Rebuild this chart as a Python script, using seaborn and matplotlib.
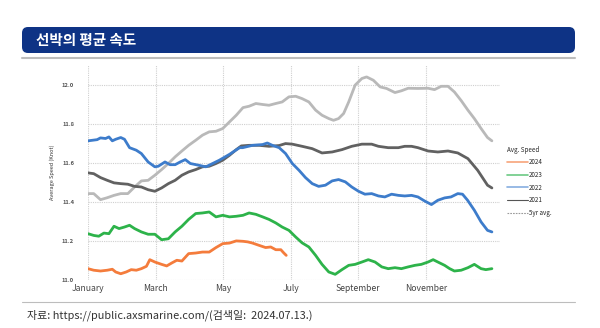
import matplotlib
matplotlib.use("Agg")
import matplotlib.pyplot as plt
from matplotlib.patches import FancyBboxPatch
from matplotlib.lines import Line2D
import pandas as pd
import seaborn as sns

sns.set_style("white")
plt.rcParams["font.family"] = ["Noto Sans CJK KR", "DejaVu Sans"]

# x values are months elapsed since 1 January
month_ticks = [0, 2, 4, 6, 8, 10]
month_labels = ["January", "March", "May", "July", "September", "November"]
speed_ticks = [11.0, 11.2, 11.4, 11.6, 11.8, 12.0]

x_2024 = [0, 0.17, 0.37, 0.57, 0.72, 0.82, 0.97, 1.13, 1.28, 1.43, 1.58, 1.73, 1.83, 1.98,
          2.18, 2.33, 2.48, 2.63, 2.78, 2.98, 3.19, 3.39, 3.59, 3.79, 3.99, 4.19, 4.39,
          4.59, 4.73, 4.87, 5.07, 5.26, 5.41, 5.56, 5.71, 5.80, 5.87]
v_2024 = [11.058, 11.050, 11.046, 11.050, 11.055, 11.041, 11.032, 11.041, 11.053, 11.050,
          11.058, 11.070, 11.104, 11.092, 11.080, 11.072, 11.087, 11.101, 11.097, 11.135,
          11.138, 11.143, 11.143, 11.166, 11.186, 11.189, 11.200, 11.198, 11.195, 11.189,
          11.177, 11.166, 11.169, 11.155, 11.155, 11.138, 11.126]

x_2023 = [0, 0.17, 0.32, 0.47, 0.62, 0.77, 0.92, 1.08, 1.23, 1.38, 1.58, 1.78, 1.98, 2.18,
          2.38, 2.58, 2.78, 2.98, 3.19, 3.39, 3.59, 3.79, 3.99, 4.19, 4.39, 4.59, 4.77,
          4.97, 5.17, 5.36, 5.56, 5.75, 5.95, 6.15, 6.34, 6.54, 6.74, 6.93, 7.13, 7.32,
          7.52, 7.72, 7.91, 8.11, 8.30, 8.50, 8.70, 8.89, 9.09, 9.28, 9.48, 9.68, 9.87,
          10.07, 10.22, 10.36, 10.56, 10.71, 10.85, 11.05, 11.25, 11.44, 11.64, 11.78, 11.96]
v_2023 = [11.237, 11.228, 11.224, 11.240, 11.237, 11.275, 11.263, 11.271, 11.280, 11.263,
          11.246, 11.234, 11.234, 11.206, 11.211, 11.246, 11.275, 11.310, 11.340, 11.343,
          11.348, 11.323, 11.331, 11.323, 11.326, 11.331, 11.343, 11.336, 11.323, 11.310,
          11.292, 11.271, 11.254, 11.220, 11.190, 11.169, 11.126, 11.080, 11.041, 11.029,
          11.053, 11.075, 11.080, 11.092, 11.104, 11.092, 11.067, 11.058, 11.063, 11.058,
          11.067, 11.075, 11.080, 11.092, 11.104, 11.092, 11.075, 11.058, 11.046, 11.050,
          11.063, 11.080, 11.058, 11.053, 11.058]

x_2022 = [0, 0.27, 0.37, 0.52, 0.62, 0.72, 0.82, 0.97, 1.08, 1.23, 1.43, 1.58, 1.78, 1.98,
          2.08, 2.28, 2.43, 2.58, 2.73, 2.88, 3.03, 3.28, 3.49, 3.69, 3.89, 4.19, 4.49,
          4.58, 4.87, 5.17, 5.31, 5.46, 5.66, 5.85, 6.05, 6.25, 6.44, 6.64, 6.83, 7.03,
          7.23, 7.42, 7.62, 7.81, 8.01, 8.20, 8.40, 8.60, 8.79, 8.99, 9.19, 9.38, 9.58,
          9.77, 9.97, 10.17, 10.36, 10.56, 10.75, 10.95, 11.09, 11.24, 11.44, 11.64, 11.83, 11.96]
v_2022 = [11.712, 11.718, 11.727, 11.724, 11.732, 11.712, 11.720, 11.729, 11.720, 11.677,
          11.664, 11.647, 11.604, 11.579, 11.582, 11.604, 11.590, 11.590, 11.604, 11.616,
          11.596, 11.587, 11.579, 11.596, 11.613, 11.643, 11.677, 11.677, 11.689, 11.693,
          11.701, 11.689, 11.677, 11.647, 11.596, 11.561, 11.524, 11.493, 11.479, 11.485,
          11.507, 11.514, 11.502, 11.476, 11.454, 11.439, 11.442, 11.430, 11.425, 11.439,
          11.433, 11.430, 11.433, 11.425, 11.404, 11.386, 11.408, 11.420, 11.425, 11.442,
          11.439, 11.408, 11.357, 11.297, 11.254, 11.246]

x_2021 = [0, 0.17, 0.37, 0.57, 0.77, 0.97, 1.18, 1.38, 1.58, 1.78, 1.98, 2.18, 2.38, 2.58,
          2.78, 2.98, 3.19, 3.39, 3.59, 3.79, 3.99, 4.19, 4.39, 4.54, 4.77, 5.07, 5.36,
          5.66, 5.85, 6.05, 6.34, 6.64, 6.93, 7.23, 7.52, 7.81, 8.11, 8.40, 8.60, 8.89,
          9.19, 9.38, 9.58, 9.77, 10.07, 10.36, 10.66, 10.95, 11.25, 11.54, 11.83, 11.96]
v_2021 = [11.548, 11.544, 11.524, 11.510, 11.497, 11.493, 11.490, 11.479, 11.476, 11.462,
          11.454, 11.471, 11.493, 11.510, 11.536, 11.553, 11.565, 11.579, 11.582, 11.596,
          11.613, 11.638, 11.667, 11.686, 11.689, 11.689, 11.684, 11.688, 11.698, 11.695,
          11.684, 11.672, 11.650, 11.655, 11.667, 11.684, 11.695, 11.695, 11.684, 11.677,
          11.677, 11.684, 11.684, 11.677, 11.660, 11.655, 11.660, 11.650, 11.621, 11.561,
          11.485, 11.471]

x_5yr = [0, 0.17, 0.37, 0.57, 0.77, 0.97, 1.18, 1.38, 1.58, 1.78, 1.98, 2.18, 2.38, 2.58,
         2.78, 2.98, 3.19, 3.39, 3.59, 3.79, 3.99, 4.19, 4.39, 4.59, 4.77, 4.97, 5.17,
         5.36, 5.56, 5.75, 5.95, 6.15, 6.34, 6.54, 6.74, 6.93, 7.13, 7.27, 7.42, 7.57,
         7.72, 7.91, 8.11, 8.25, 8.45, 8.65, 8.84, 9.09, 9.28, 9.48, 9.77, 10.07, 10.26,
         10.46, 10.66, 10.85, 11.05, 11.25, 11.44, 11.64, 11.83, 11.96]
v_5yr = [11.442, 11.442, 11.411, 11.421, 11.433, 11.442, 11.442, 11.476, 11.507, 11.510,
         11.536, 11.565, 11.596, 11.630, 11.660, 11.689, 11.715, 11.741, 11.758, 11.761,
         11.775, 11.809, 11.843, 11.882, 11.889, 11.903, 11.898, 11.894, 11.903, 11.911,
         11.937, 11.940, 11.928, 11.911, 11.869, 11.843, 11.826, 11.817, 11.826, 11.852,
         11.911, 11.997, 12.031, 12.039, 12.022, 11.988, 11.980, 11.959, 11.968, 11.981,
         11.980, 11.981, 11.974, 11.991, 11.991, 11.962, 11.918, 11.869, 11.826, 11.775,
         11.729, 11.712]

series = [
    ("5yr avg.", x_5yr, v_5yr, "#B9B9B9"),
    ("2021", x_2021, v_2021, "#616161"),
    ("2022", x_2022, v_2022, "#3D7CCB"),
    ("2023", x_2023, v_2023, "#2DB34A"),
    ("2024", x_2024, v_2024, "#F47C3C"),
]

frames = [pd.DataFrame({"month": xs, "speed": vs, "year": name})
          for name, xs, vs, _ in series]
df = pd.concat(frames, ignore_index=True)
palette = {name: color for name, _, _, color in series}

fig = plt.figure(figsize=(6, 3.28), dpi=100)

# page furniture: title banner, rules and source line (pixel coordinates)
deco = fig.add_axes([0, 0, 1, 1])
deco.set_xlim(0, 600)
deco.set_ylim(328, 0)
deco.axis("off")
deco.add_patch(FancyBboxPatch((22, 27), 553, 26,
                              boxstyle="round,pad=0,rounding_size=6",
                              facecolor="#0E3385", edgecolor="none"))
deco.text(36, 40.5, "선박의 평균 속도", color="white", fontsize=10.5,
          fontweight="bold", va="center", ha="left")
deco.plot([22, 575], [58, 58], color="#BDBDBD", lw=1.5)
deco.plot([22, 575], [302, 302], color="#BDBDBD", lw=0.8)
deco.text(27, 315, "자료: https://public.axsmarine.com/(검색일:  2024.07.13.)",
          color="#333333", fontsize=7.9, va="center", ha="left")

ax = fig.add_axes([88 / 600, 1 - 280 / 328, 412 / 600, 215 / 328])
sns.lineplot(data=df, x="month", y="speed", hue="year", palette=palette,
             hue_order=[s[0] for s in series], sort=False, estimator=None,
             linewidth=2.0, legend=False, ax=ax)

ax.set_xlim(0, 12.2)
ax.set_ylim(11.0, 12.1)
ax.set_xticks(month_ticks)
ax.set_xticklabels(month_labels, fontsize=6.2, color="#444444")
ax.set_yticks(speed_ticks)
ax.set_yticklabels([f"{t:.1f}" for t in speed_ticks], fontsize=4.2,
                   color="#555555", fontweight="bold")
ax.tick_params(axis="x", length=0, pad=3)
ax.tick_params(axis="y", length=0, pad=10)
ax.grid(True, color="#CFCFCF", linestyle=(0, (1, 1)), linewidth=0.8)
ax.set_axisbelow(True)
for side in ax.spines.values():
    side.set_visible(False)
ax.set_xlabel("")
ax.set_ylabel("Average Speed (Knot)", fontsize=4, fontstyle="italic",
              color="#333333", labelpad=5)

handles = [
    Line2D([], [], color="#F7A47A", lw=1.2),
    Line2D([], [], color="#6CC984", lw=1.2),
    Line2D([], [], color="#86AEE0", lw=1.2),
    Line2D([], [], color="#555555", lw=0.8),
    Line2D([], [], color="#9A9A9A", lw=0.8, linestyle=(0, (1.5, 1))),
]
labels = ["2024", "2023", "2022", "2021", "5yr avg."]
ax.legend(handles, labels, title="Avg. Speed", loc="upper left",
          bbox_to_anchor=(1.01, 0.64), frameon=False, fontsize=4.5,
          title_fontsize=4.5, alignment="left", handlelength=3.4,
          handletextpad=0.1, labelspacing=0.75, borderpad=0)

fig.savefig("out.png", dpi=100)
